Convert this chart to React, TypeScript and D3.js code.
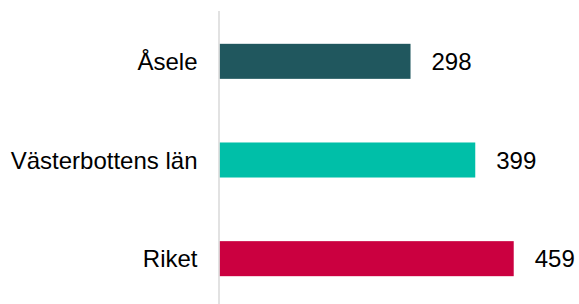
import React, { useEffect, useRef } from "react";
import * as d3 from "d3";

const categories = ["Åsele", "Västerbottens län", "Riket"];
const values = [298, 399, 459];
const colors = ["#20575e", "#00bfa8", "#cb0040"];

const W = 579;
const H = 304;

export default function App() {
  const ref = useRef<SVGSVGElement>(null);

  useEffect(() => {
    const svg = d3.select(ref.current);
    svg.selectAll("*").remove();

    const x0 = 219.5;
    const x = d3.scaleLinear().domain([0, 500]).range([x0, x0 + 320.5]);
    const y = d3
      .scaleBand<string>()
      .domain(categories)
      .range([12, 308])
      .paddingInner(0.645)
      .paddingOuter(0.3225);

    const data = categories.map((c, i) => ({ name: c, value: values[i], color: colors[i] }));

    svg
      .selectAll("rect.bar")
      .data(data)
      .join("rect")
      .attr("class", "bar")
      .attr("x", x(0))
      .attr("y", (d) => y(d.name)!)
      .attr("width", (d) => x(d.value) - x(0))
      .attr("height", y.bandwidth())
      .attr("fill", (d) => d.color);

    svg
      .append("line")
      .attr("x1", x(0) - 0.5)
      .attr("x2", x(0) - 0.5)
      .attr("y1", 11)
      .attr("y2", H)
      .attr("stroke", "#d9d9d9")
      .attr("stroke-width", 1.5);

    svg
      .selectAll("text.cat")
      .data(data)
      .join("text")
      .attr("class", "cat")
      .attr("x", x(0) - 22)
      .attr("y", (d) => y(d.name)! + y.bandwidth() / 2)
      .attr("dy", "0.36em")
      .attr("text-anchor", "end")
      .style("font-family", "'Liberation Sans', Arial, sans-serif")
      .style("font-size", "24px")
      .style("fill", "#000")
      .text((d) => d.name);

    svg
      .selectAll("text.val")
      .data(data)
      .join("text")
      .attr("class", "val")
      .attr("x", (d) => x(d.value) + 21)
      .attr("y", (d) => y(d.name)! + y.bandwidth() / 2)
      .attr("dy", "0.36em")
      .style("font-family", "'Liberation Sans', Arial, sans-serif")
      .style("font-size", "24px")
      .style("fill", "#000")
      .text((d) => d.value);
  }, []);

  return (
    <svg
      ref={ref}
      width={W}
      height={H}
      style={{ position: "absolute", top: 0, left: 0, display: "block", background: "#fff" }}
    />
  );
}
